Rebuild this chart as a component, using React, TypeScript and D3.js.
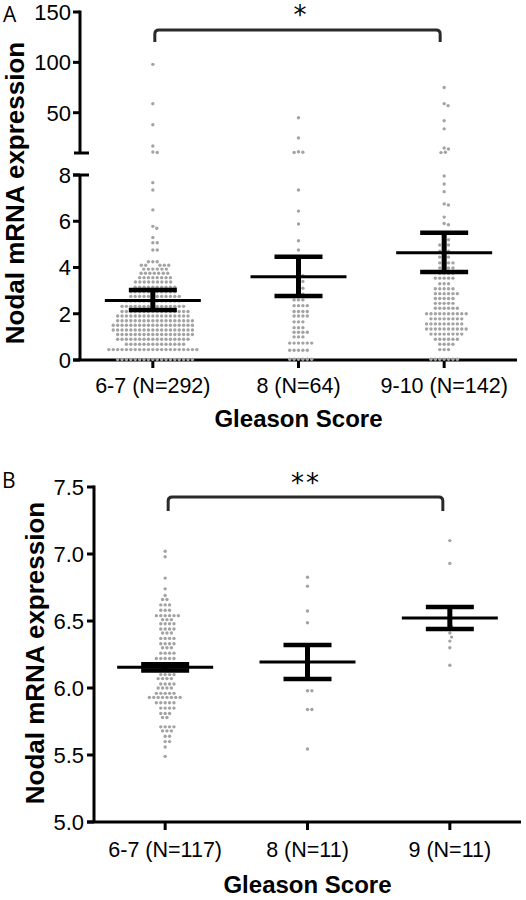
import React from "react";
import * as d3 from "d3";

// ---------- data ----------
const catsA = ["6-7 (N=292)", "8 (N=64)", "9-10 (N=142)"];
const catsB = ["6-7 (N=117)", "8 (N=11)", "9 (N=11)"];

// [value, number of samples at about that value]
const rowsA67: [number, number][] = [
  [98, 1], [59, 1], [38, 1], [17, 1], [11, 1], [10.5, 1],
  [7.67, 1], [7.35, 1], [6.49, 1], [5.78, 1], [5.7, 1], [5.3, 1], [5.07, 2], [4.76, 2],
  [4.25, 3], [4.1, 5], [3.93, 6], [3.75, 7], [3.56, 8], [3.37, 9], [3.15, 10], [2.95, 11],
  [2.75, 12], [2.55, 13], [2.32, 15], [2.1, 16], [1.9, 17], [1.7, 18], [1.5, 19], [1.3, 19],
  [1.1, 18], [0.9, 17], [0.68, 14], [0.45, 21], [0.02, 18],
];
const rowsA8: [number, number][] = [
  [45, 1], [25, 1], [11.2, 1], [10.8, 1], [10.5, 1], [7.35, 1], [6.44, 1], [5.88, 1],
  [5.16, 1], [4.76, 1], [3.89, 1], [3.65, 2], [3.4, 2], [3.1, 2], [2.85, 2], [2.6, 3],
  [2.35, 4], [2.1, 4], [1.9, 4], [1.65, 3], [1.4, 3], [1.2, 4], [1.0, 3], [0.73, 6],
  [0.42, 5], [0.03, 6],
];
const rowsA910: [number, number][] = [
  [75, 1], [59, 1], [57, 1], [42, 1], [34, 1], [15, 1], [14, 1], [10.8, 1], [10.4, 1],
  [7.96, 1], [7.61, 1], [7.28, 1], [6.75, 1], [6.7, 1], [6.18, 1], [5.9, 1], [5.85, 1],
  [5.5, 2], [5.2, 2], [4.97, 3], [4.7, 3], [4.45, 3], [4.2, 4], [3.98, 4], [3.75, 4],
  [3.54, 5], [3.3, 3], [3.08, 5], [2.87, 6], [2.66, 5], [2.45, 5], [2.24, 6], [2.0, 10],
  [1.78, 8], [1.56, 9], [1.34, 10], [1.12, 8], [0.9, 6], [0.68, 4], [0.45, 3], [0.03, 7],
];
const rowsB67: [number, number][] = [
  [7.02, 1], [6.98, 1], [6.82, 1], [6.74, 1], [6.69, 1], [6.66, 2], [6.62, 3], [6.58, 3],
  [6.54, 6], [6.51, 3], [6.48, 4], [6.44, 4], [6.41, 3], [6.37, 4], [6.33, 4], [6.3, 3],
  [6.26, 4], [6.22, 5], [6.18, 4], [6.14, 4], [6.1, 4], [6.07, 4], [6.03, 4], [6.0, 4],
  [5.96, 5], [5.93, 8], [5.89, 5], [5.85, 4], [5.81, 3], [5.78, 2], [5.71, 4], [5.68, 3],
  [5.64, 2], [5.6, 2], [5.56, 1], [5.49, 1],
];
const valuesB8 = [6.826, 6.76, 6.575, 6.487, 6.15, 6.11, 5.98, 5.98, 5.84, 5.84, 5.545];
const valuesB9 = [7.1, 6.93, 6.6, 6.53, 6.49, 6.46, 6.41, 6.38, 6.35, 6.3, 6.17];

const meanA = [2.57, 3.6, 4.64];
const semLowA = [2.16, 2.77, 3.81];
const semHighA = [3.03, 4.46, 5.5];
const meanB = [6.155, 6.194, 6.522];
const semLowB = [6.13, 6.067, 6.44];
const semHighB = [6.177, 6.32, 6.604];

const ticksAUpper = [50, 100, 150];
const ticksALower = [0, 2, 4, 6, 8];
const ticksB = [5.0, 5.5, 6.0, 6.5, 7.0, 7.5];

const sigA = "*";
const sigB = "**";

// ---------- helpers ----------
const expand = (rows: [number, number][]) =>
  rows.flatMap(([v, n]) => Array.from({ length: n }, () => v));

function swarm(values: number[], yOf: (v: number) => number, d: number) {
  const pts = values
    .slice()
    .sort((a, b) => b - a)
    .map((v) => ({ v, y: yOf(v), x: 0 }));
  const placed: { x: number; y: number }[] = [];
  for (const p of pts) {
    const iv: [number, number][] = [];
    for (const q of placed) {
      const dy = Math.abs(q.y - p.y);
      if (dy < d) {
        const w = Math.sqrt(d * d - dy * dy);
        iv.push([q.x - w, q.x + w]);
      }
    }
    const cands = [0, ...iv.flatMap(([a, b]) => [a, b])];
    cands.sort((a, b) => Math.abs(a) - Math.abs(b) || b - a);
    for (const c of cands) {
      if (iv.every(([a, b]) => c <= a + 1e-6 || c >= b - 1e-6)) {
        p.x = c;
        break;
      }
    }
    placed.push(p);
  }
  return pts;
}

const FONT = "'Liberation Sans', Arial, Helvetica, sans-serif";
const DOT = "#a3a3a3";
const DOT_R = 1.7;
const SPACING = 4.4;

function ErrorBar({ x, ym, yl, yh }: { x: number; ym: number; yl: number; yh: number }) {
  return (
    <g stroke="#000">
      <line x1={x} x2={x} y1={yh} y2={yl} strokeWidth={5} />
      <line x1={x - 24} x2={x + 24} y1={yh} y2={yh} strokeWidth={4.5} />
      <line x1={x - 24} x2={x + 24} y1={yl} y2={yl} strokeWidth={4.5} />
      <line x1={x - 48} x2={x + 48} y1={ym} y2={ym} strokeWidth={3} />
    </g>
  );
}

function bracket(x1: number, x2: number, y0: number, y1: number, r = 4) {
  return `M${x1},${y1} L${x1},${y0 + r} Q${x1},${y0} ${x1 + r},${y0} L${x2 - r},${y0} Q${x2},${y0} ${x2},${y0 + r} L${x2},${y1}`;
}

export default function App() {
  // Panel A scales
  const xA = d3.scalePoint<string>().domain(catsA).range([80, 517]).padding(0.5);
  const yAlo = d3.scaleLinear().domain([0, 8]).range([360, 175]);
  const yAhi = d3.scaleLinear().domain([10, 150]).range([153, 12]);
  const yA = (v: number) => (v > 9 ? yAhi(v) : yAlo(v));

  // Panel B scales
  const xB = d3.scalePoint<string>().domain(catsB).range([94, 521]).padding(0.5);
  const yB = d3.scaleLinear().domain([5, 7.5]).range([822, 487]);

  const groupsA = [rowsA67, rowsA8, rowsA910].map((r) => swarm(expand(r), yA, SPACING));
  const groupsB = [expand(rowsB67), valuesB8, valuesB9].map((v) => swarm(v, yB, SPACING));

  const axisX = 80;
  const axisXB = 94;

  return (
    <svg
      width={526}
      height={900}
      style={{ position: "absolute", left: 0, top: 0, background: "#fff" }}
      fontFamily={FONT}
    >
      <rect width={526} height={900} fill="#fff" />

      {/* ================= Panel A ================= */}
      <text x={3} y={22} fontSize={21} fontFamily="'Open Sans', 'Noto Sans', sans-serif" fill="#000">A</text>

      {/* y axis upper segment */}
      <g stroke="#000" strokeWidth={3}>
        <line x1={axisX} x2={axisX} y1={yAhi(150) - 1.5} y2={yAhi(10)} />
        <line x1={axisX - 6} x2={axisX + 9} y1={yAhi(10)} y2={yAhi(10)} />
        {ticksAUpper.map((t) => (
          <line key={t} x1={axisX - 7} x2={axisX} y1={yAhi(t)} y2={yAhi(t)} />
        ))}
        {/* lower segment */}
        <line x1={axisX} x2={axisX} y1={yAlo(8)} y2={yAlo(0)} />
        <line x1={axisX - 7} x2={axisX + 9} y1={yAlo(8)} y2={yAlo(8)} />
        {ticksALower.map((t) => (
          <line key={t} x1={axisX - 7} x2={axisX} y1={yAlo(t)} y2={yAlo(t)} />
        ))}
        {/* x axis */}
        <line x1={axisX - 7} x2={517} y1={yAlo(0)} y2={yAlo(0)} />
        {catsA.map((c) => (
          <line key={c} x1={xA(c)!} x2={xA(c)!} y1={yAlo(0)} y2={yAlo(0) + 8} />
        ))}
      </g>
      <g fontSize={22} textAnchor="end" fill="#000">
        {ticksAUpper.map((t) => (
          <text key={t} x={71} y={yAhi(t)} dy="0.36em">{t}</text>
        ))}
        {ticksALower.map((t) => (
          <text key={t} x={71} y={yAlo(t)} dy="0.36em">{t}</text>
        ))}
      </g>
      <g fontSize={21.5} textAnchor="middle" fill="#000">
        {catsA.map((c) => (
          <text key={c} x={xA(c)!} y={393}>{c}</text>
        ))}
      </g>
      <text x={xA(catsA[1])!} y={427} fontSize={24} fontWeight="bold" textAnchor="middle">Gleason Score</text>
      <text transform="translate(24,193) rotate(-90)" fontSize={26} fontWeight="bold" textAnchor="middle">Nodal mRNA expression</text>

      {/* dots A */}
      {groupsA.map((pts, gi) => (
        <g key={gi} fill={DOT}>
          {pts.map((p, i) => (
            <circle key={i} cx={xA(catsA[gi])! + p.x} cy={p.y} r={DOT_R} />
          ))}
        </g>
      ))}
      {catsA.map((c, i) => (
        <ErrorBar key={c} x={xA(c)!} ym={yAlo(meanA[i])} yl={yAlo(semLowA[i])} yh={yAlo(semHighA[i])} />
      ))}

      {/* significance A */}
      <path d={bracket(xA(catsA[0])! + 2, xA(catsA[2])! - 4, 30, 42)} fill="none" stroke="#2a2a2a" strokeWidth={3} />
      <text x={300} y={24} fontSize={26} textAnchor="middle" fontFamily="'DejaVu Sans', sans-serif">{sigA}</text>

      {/* ================= Panel B ================= */}
      <text x={2} y={488} fontSize={21} fontFamily="'Open Sans', 'Noto Sans', sans-serif" fill="#000">B</text>
      <g stroke="#000" strokeWidth={3}>
        <line x1={axisXB} x2={axisXB} y1={yB(7.5) - 1.5} y2={yB(5)} />
        {ticksB.map((t) => (
          <line key={t} x1={axisXB - 7} x2={axisXB} y1={yB(t)} y2={yB(t)} />
        ))}
        <line x1={axisXB - 7} x2={521} y1={yB(5)} y2={yB(5)} />
        {catsB.map((c) => (
          <line key={c} x1={xB(c)!} x2={xB(c)!} y1={yB(5)} y2={yB(5) + 8} />
        ))}
      </g>
      <g fontSize={22} textAnchor="end" fill="#000">
        {ticksB.map((t) => (
          <text key={t} x={84} y={yB(t)} dy="0.36em">{t.toFixed(1)}</text>
        ))}
      </g>
      <g fontSize={21.5} textAnchor="middle" fill="#000">
        {catsB.map((c) => (
          <text key={c} x={xB(c)!} y={857}>{c}</text>
        ))}
      </g>
      <text x={xB(catsB[1])!} y={893} fontSize={24} fontWeight="bold" textAnchor="middle">Gleason Score</text>
      <text transform="translate(44,653) rotate(-90)" fontSize={26} fontWeight="bold" textAnchor="middle">Nodal mRNA expression</text>

      {groupsB.map((pts, gi) => (
        <g key={gi} fill={DOT}>
          {pts.map((p, i) => (
            <circle key={i} cx={xB(catsB[gi])! + p.x} cy={p.y} r={DOT_R} />
          ))}
        </g>
      ))}
      {catsB.map((c, i) => (
        <ErrorBar key={c} x={xB(c)!} ym={yB(meanB[i])} yl={yB(semLowB[i])} yh={yB(semHighB[i])} />
      ))}

      <path d={bracket(xB(catsB[0])! + 3, xB(catsB[2])! - 7, 497, 511)} fill="none" stroke="#2a2a2a" strokeWidth={3} />
      <text x={306} y={492} fontSize={26} textAnchor="middle" fontFamily="'DejaVu Sans', sans-serif" letterSpacing={2}>{sigB}</text>
    </svg>
  );
}
